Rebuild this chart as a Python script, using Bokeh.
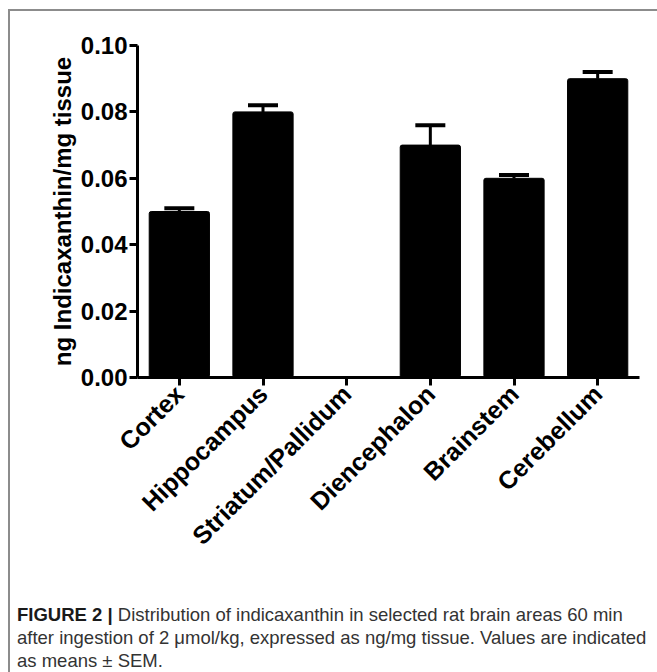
import math
from bokeh.plotting import figure
from bokeh.layouts import column
from bokeh.models import (ColumnDataSource, FactorRange, Range1d, FixedTicker,
                          NumeralTickFormatter, Whisker, TeeHead, Div)
from bokeh.embed import file_html
from bokeh.resources import INLINE

categories = ["Cortex", "Hippocampus", "Striatum/Pallidum", "Diencephalon", "Brainstem", "Cerebellum"]
means = [0.050, 0.080, 0.0, 0.070, 0.060, 0.090]
sems = [0.001, 0.002, 0.0, 0.006, 0.001, 0.002]
y_ticks = [0.0, 0.02, 0.04, 0.06, 0.08, 0.10]
y_title = "ng Indicaxanthin/mg tissue"
caption_bold = "FIGURE 2 |"
caption_lines = [
    "Distribution of indicaxanthin in selected rat brain areas 60 min",
    "after ingestion of 2 \u03bcmol/kg, expressed as ng/mg tissue. Values are indicated",
    "as means \u00b1 SEM.",
]

OX, OY = 10, 11          # where the figure's canvas starts in the page
W, H = 647, 579
FL, FT, FR, FB = 137 - OX, 45 - OY, 639 - OX, 377 - OY  # frame edges in figure px

p = figure(width=W, height=H, x_range=FactorRange(*categories), y_range=Range1d(0, 0.1),
           output_backend="svg", toolbar_location=None,
           min_border_left=FL, min_border_top=FT, min_border_right=W - FR,
           min_border_bottom=H - FB)
p.outline_line_color = None
p.xgrid.grid_line_color = None
p.ygrid.grid_line_color = None
p.background_fill_color = "white"
p.border_fill_color = "white"

src = ColumnDataSource(dict(cat=categories, mean=means))
p.vbar(x="cat", top="mean", bottom=0, width=0.72, source=src,
       fill_color="black", line_color="black", line_width=1, border_radius=2)

idx = [i for i, s in enumerate(sems) if s > 0]
esrc = ColumnDataSource(dict(cat=[categories[i] for i in idx],
                             mean=[means[i] for i in idx],
                             upper=[means[i] + sems[i] for i in idx]))
w = Whisker(base="cat", lower="mean", upper="upper", source=esrc,
            line_color="black", line_width=3,
            upper_head=TeeHead(size=30, line_width=4, line_color="black"),
            lower_head=None)
p.add_layout(w)

for ax in (p.xaxis[0], p.yaxis[0]):
    ax.axis_line_width = 3
    ax.axis_line_color = "black"
    ax.major_tick_line_width = 3
    ax.major_tick_line_color = "black"
    ax.major_tick_out = 8
    ax.major_tick_in = 0
    ax.minor_tick_line_color = None
    ax.major_label_text_font = "Liberation Sans"
    ax.major_label_text_font_style = "bold"
    ax.major_label_text_color = "black"

p.yaxis[0].ticker = FixedTicker(ticks=y_ticks)
p.yaxis[0].formatter = NumeralTickFormatter(format="0.00")
p.yaxis[0].major_label_text_font_size = "24px"
p.yaxis[0].major_label_standoff = 2
p.yaxis[0].axis_label = y_title
p.yaxis[0].axis_label_text_font = "Liberation Sans"
p.yaxis[0].axis_label_text_font_style = "bold"
p.yaxis[0].axis_label_text_font_size = "24px"
p.yaxis[0].axis_label_text_color = "black"
p.yaxis[0].axis_label_standoff = 2

p.xaxis[0].major_label_orientation = math.pi / 4
p.xaxis[0].major_label_text_font_size = "25px"
p.xaxis[0].major_label_standoff = 4

cap_html = (
    '<div style="font-family:\'Liberation Sans\',Arial,sans-serif;font-size:18.5px;'
    'line-height:23px;color:#333333;white-space:nowrap;padding:8px 0 0 2px;">'
    f'<b style="color:#1a1a1a">{caption_bold}</b> {caption_lines[0]}<br>'
    f'{caption_lines[1]}<br>{caption_lines[2]}</div>'
)
cap = Div(text=cap_html, width=W, height=81)

layout = column(p, cap, spacing=0, margin=(9, 0, 0, 8),
                styles={"border-top": "2px solid #8c8c8c",
                        "border-left": "2px solid #8c8c8c"})

open("out.html", "w").write(file_html(layout, INLINE))
